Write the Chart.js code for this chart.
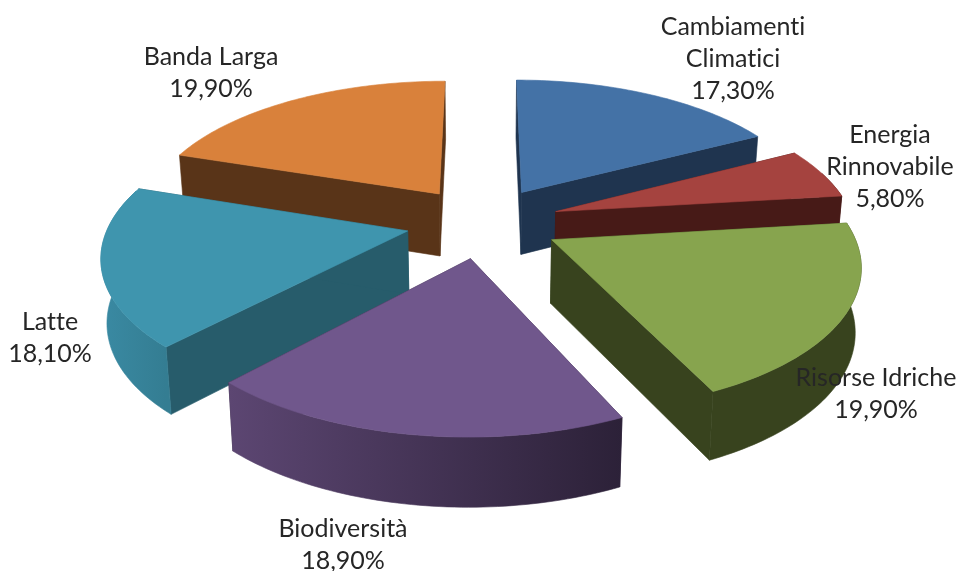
<!DOCTYPE html>
<html><head><meta charset="utf-8">
<style>html,body{margin:0;padding:0;background:#fff}#wrap{position:relative;width:956px;height:571px}</style>
<script src="https://cdn.jsdelivr.net/npm/chart.js@4/dist/chart.umd.min.js"></script>
</head><body><div id="wrap"><canvas id="c" width="956" height="571"></canvas></div>
<script>
const categories = ["Cambiamenti Climatici","Energia Rinnovabile","Risorse Idriche","Biodiversità","Latte","Banda Larga"];
const shares = [17.3,5.8,19.9,18.9,18.1,19.9];
const shareLabels = ["17,30%","5,80%","19,90%","18,90%","18,10%","19,90%"];
const topColors = ["#4472a6","#a5433f","#87a44e","#70578c","#3f95ae","#d9813b"];
const cutColors = ["#1f344f","#471a17","#38431e","#352842","#275c6b","#593418"];
const wallLeft  = ["#1f344f","#471a17","#38431e","#5c4672","#3a8aa3","#593418"];
const wallRight = ["#1f344f","#471a17","#38431e","#2c2138","#347d92","#593418"];
const labelLines = [["Cambiamenti","Climatici"],["Energia","Rinnovabile"],["Risorse Idriche"],["Biodiversità"],["Latte"],["Banda Larga"]];
const labelCenterX = [733,890,876,343,50,211];
const labelFirstY = [27,135,378,529,322,57];
const view = {explode:77,squash:0.4636,persp:0.000518,depth:63,shrink:0.984,lineGap:32};

function project(el,X,Y,low){
  const w=1/(1-view.persp*Y);
  const s=low?view.shrink:1;
  return [el.x+X*w*s, el.y+view.squash*Y*w+(low?view.depth*Math.sqrt(w):0)];
}
function sliceGeom(el){
  const mid=(el.startAngle+el.endAngle)/2, e=el.options.offset;
  const ox=e*Math.cos(mid), oy=e*Math.sin(mid), R=el.outerRadius;
  const rim=(a,low)=>project(el,ox+R*Math.cos(a),oy+R*Math.sin(a),low);
  const apex=low=>project(el,ox,oy,low);
  return {mid,rim,apex};
}
function poly(ctx,pts,fill){
  ctx.beginPath();pts.forEach((p,i)=>i?ctx.lineTo(p[0],p[1]):ctx.moveTo(p[0],p[1]));
  ctx.closePath();ctx.fillStyle=fill;ctx.fill();ctx.strokeStyle=fill;ctx.lineWidth=0.6;ctx.stroke();
}
function arcAngles(a0,a1){const n=Math.max(2,Math.ceil((a1-a0)/0.02));const o=[];for(let i=0;i<=n;i++)o.push(a0+(a1-a0)*i/n);return o;}
function drawSlice(ctx,el,i){
  const g=sliceGeom(el),A=el.startAngle,B=el.endAngle;
  [A,B].forEach(a=>poly(ctx,[g.apex(false),g.rim(a,false),g.rim(a,true),g.apex(true)],cutColors[i]));
  [0,2*Math.PI].forEach(shift=>{
    const a0=Math.max(A,-0.3+shift),a1=Math.min(B,Math.PI+0.3+shift);
    if(a1<=a0)return;
    const as=arcAngles(a0,a1);
    const top=as.map(a=>g.rim(a,false)),low=as.map(a=>g.rim(a,true)).reverse();
    const xs=top.map(p=>p[0]);const gr=ctx.createLinearGradient(Math.min(...xs),0,Math.max(...xs),0);
    gr.addColorStop(0,wallLeft[i]);gr.addColorStop(1,wallRight[i]);
    poly(ctx,top.concat(low),gr);
  });
  poly(ctx,[g.apex(false)].concat(arcAngles(A,B).map(a=>g.rim(a,false))),el.options.backgroundColor);
}
const pie3d={id:'pie3d',
  beforeDatasetDraw(chart,args){
    const els=chart.getDatasetMeta(args.index).data;
    const order=els.map((el,i)=>[i,Math.sin((el.startAngle+el.endAngle)/2)]).sort((a,b)=>a[1]-b[1]);
    order.forEach(o=>drawSlice(chart.ctx,els[o[0]],o[0]));
    return false;
  },
  afterDatasetsDraw(chart){
    const ctx=chart.ctx;ctx.save();
    ctx.font='25px Lato';ctx.textRendering='optimizeSpeed';ctx.fillStyle='#262626';ctx.textAlign='center';ctx.textBaseline='middle';
    labelLines.forEach((lines,i)=>{
      lines.concat(shareLabels[i]).forEach((t,k)=>ctx.fillText(t,labelCenterX[i],labelFirstY[i]+k*view.lineGap));
    });
    ctx.restore();
  }
};
new Chart(document.getElementById('c'),{
  type:'pie',
  data:{labels:categories,datasets:[{data:shares,backgroundColor:topColors,offset:view.explode,borderWidth:0,clip:false}]},
  options:{responsive:false,animation:false,radius:298,events:[],
    layout:{padding:{left:10,right:0,top:0,bottom:127}},
    plugins:{legend:{display:false},tooltip:{enabled:false},title:{display:false}}},
  plugins:[pie3d]
});
</script></body></html>
